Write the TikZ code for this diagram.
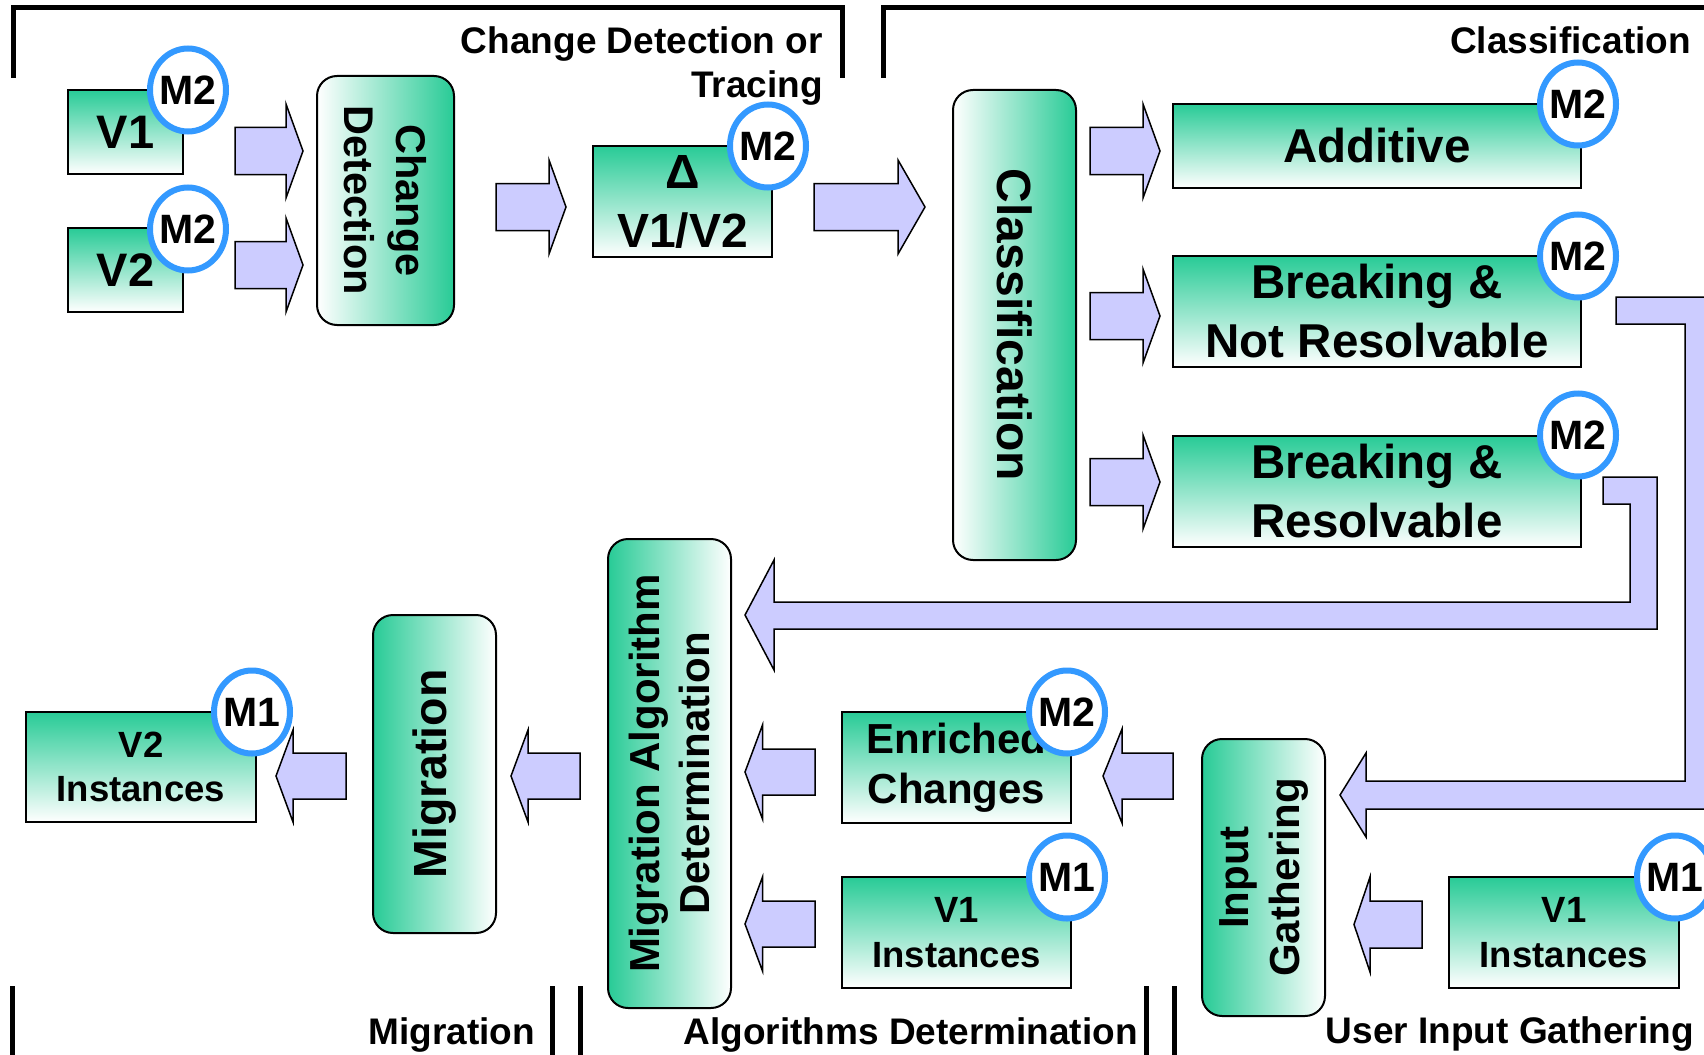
\documentclass[tikz,border=0pt]{standalone}
\usepackage{fontspec}
\setmainfont{Liberation Sans}
\usetikzlibrary{shapes.geometric,calc}
\definecolor{gr}{RGB}{40,203,150}
\definecolor{af}{RGB}{204,204,255}
\definecolor{bb}{RGB}{51,153,255}
\newcommand\fsz[2]{\fontsize{#1}{#2}\selectfont\bfseries}
\newcommand\harrow[5]{%
  \draw[blockarrow] let \p1=(#1), \p2=(#2), \n1={#5} in
   ({\x1},{\y2+#3}) -- ({\x2-\n1},{\y2+#3}) -- ({\x2-\n1},{\y2+#4}) -- ({\x2},{\y2}) --
   ({\x2-\n1},{\y2-#4}) -- ({\x2-\n1},{\y2-#3}) -- ({\x1},{\y2-#3}) -- cycle;}
\begin{document}
\begin{tikzpicture}[x=1pt,y=-1pt,
  box/.style={draw=black, line width=2pt, top color=gr, bottom color=white,
    rectangle, inner sep=0pt, align=center},
  rboxr/.style={draw=black, line width=2pt, left color=white, right color=gr,
    rectangle, inner sep=0pt, align=center, rounded corners=20pt},
  rboxl/.style={draw=black, line width=2pt, left color=gr, right color=white,
    rectangle, inner sep=0pt, align=center, rounded corners=20pt},
  badge/.style={ellipse, draw=bb, line width=6pt, fill=white,
    minimum width=76pt, minimum height=83pt, inner sep=0pt, font=\fsz{41}{41}},
  lbl/.style={font=\fsz{37}{44}, anchor=base east, inner sep=0pt, align=right},
  bracket/.style={line width=5pt, line cap=rect},
  blockarrow/.style={draw=black, line width=1.5pt, fill=af, line join=miter},
]
\useasboundingbox (0,0) rectangle (1704,1054);
\clip (0,0) rectangle (1704,1054);

% brackets
\draw[bracket] (13,76) -- (13,8) -- (842,8) -- (842,76);
\draw[bracket] (883,76) -- (883,8) -- (1720,8);
\draw[bracket] (12,988) -- (12,1060);
\draw[bracket] (552,988) -- (552,1060);
\draw[bracket] (580,988) -- (580,1060);
\draw[bracket] (1146,988) -- (1146,1060);
\draw[bracket] (1174,988) -- (1174,1060);

% phase labels
\node[lbl] (lcd) at (823,98) {Change Detection or\\Tracing};
\node[lbl] (lcl) at (1691,54) {Classification};
\node[lbl] (lmi) at (535,1044) {Migration};
\node[lbl] (lad) at (1138,1044) {Algorithms Determination};
\node[lbl] (lug) at (1694,1043) {User Input Gathering};

% bent arrows
\coordinate (bnrs) at (1616,310);
\coordinate (igt) at (1340,795);
\draw[blockarrow] (bnrs |- 0,297) -- (1714,297) -- (1714,809) -- (1366,809) -- (1366,837)
  -- (igt) -- (1366,753) -- (1366,781) -- (1685,781) -- (1685,324) -- (bnrs |- 0,324) -- cycle;
\coordinate (brs) at (1603,490);
\coordinate (madt) at (745,615);
\draw[blockarrow] (brs |- 0,477) -- (1657,477) -- (1657,629) -- (774,629) -- (774,670)
  -- (madt) -- (774,560) -- (774,602) -- (1630,602) -- (1630,504) -- (brs |- 0,504) -- cycle;

% boxes
\node[box, minimum width=115pt, minimum height=84pt, font=\fsz{47}{56}] (v1) at (125.5,132) {V1};
\node[box, minimum width=115pt, minimum height=84pt, font=\fsz{47}{56}] (v2) at (125.5,270) {V2};
\node[box, minimum width=179pt, minimum height=111pt, font=\fsz{48}{59}] (delta) at (682.5,201.5) {Δ\\V1/V2};
\node[box, minimum width=408pt, minimum height=84pt, font=\fsz{47.5}{59}] (add) at (1377,146) {Additive};
\node[box, minimum width=408pt, minimum height=111pt, font=\fsz{47.5}{59}] (bnr) at (1377,311.5) {Breaking \&\\Not Resolvable};
\node[box, minimum width=408pt, minimum height=111pt, font=\fsz{47.5}{59}] (br) at (1377,491.5) {Breaking \&\\Resolvable};
\node[box, minimum width=230pt, minimum height=110pt, font=\fsz{36.5}{44}] (v2i) at (141,767) {V2\\Instances};
\node[box, minimum width=229pt, minimum height=111pt, font=\fsz{42}{50}] (enr) at (956.5,767.5) {Enriched\\Changes};
\node[box, minimum width=229pt, minimum height=111pt, font=\fsz{36.5}{45}] (v1m) at (956.5,932.5) {V1\\Instances};
\node[box, minimum width=230pt, minimum height=111pt, font=\fsz{36.5}{45}] (v1r) at (1564,932.5) {V1\\Instances};

% rounded (rotated) boxes
\node[rboxr, rotate=-90, minimum width=249pt, minimum height=137pt, font=\fsz{41.5}{52}] (cd) at (385.5,200.5) {Change\\Detection};
\node[rboxr, rotate=-90, minimum width=470pt, minimum height=123pt, font=\fsz{48}{56}] (cls) at (1014.5,325) {Classification};
\node[rboxl, rotate=90, minimum width=469pt, minimum height=123pt, font=\fsz{42}{50}] (mad) at (669.5,773.5) {Migration Algorithm\\Determination};
\node[rboxl, rotate=90, minimum width=318pt, minimum height=123pt, font=\fsz{46.5}{56}] (mig) at (434.5,774) {Migration};
\node[rboxl, rotate=90, minimum width=277pt, minimum height=123pt, font=\fsz{42}{51}] (ig) at (1263.5,877.5) {Input\\Gathering};

% badges
\node[badge] (b1) at (188,90) {\makebox[0pt]{M2}};
\node[badge] (b2) at (188,229) {\makebox[0pt]{M2}};
\node[badge] (b3) at (768,146) {\makebox[0pt]{M2}};
\node[badge] (b4) at (1578,104) {\makebox[0pt]{M2}};
\node[badge] (b5) at (1578,256) {\makebox[0pt]{M2}};
\node[badge] (b6) at (1578,435) {\makebox[0pt]{M2}};
\node[badge] (b7) at (252,712) {\makebox[0pt]{M1}};
\node[badge] (b8) at (1067,712) {\makebox[0pt]{M2}};
\node[badge] (b9) at (1067,877) {\makebox[0pt]{M1}};
\node[badge] (b10) at (1675,877) {\makebox[0pt]{M1}};

% straight block arrows
\coordinate (a1s) at (235,151);  \coordinate (a1t) at (303,151);
\coordinate (a2s) at (235,265);  \coordinate (a2t) at (303,265);
\coordinate (a3s) at (496,207);  \coordinate (a3t) at (566,207);
\coordinate (a4s) at (814,207);  \coordinate (a4t) at (925,207);
\coordinate (a5s) at (1090,151); \coordinate (a5t) at (1160,151);
\coordinate (a6s) at (1090,316); \coordinate (a6t) at (1160,316);
\coordinate (a7s) at (1090,482); \coordinate (a7t) at (1160,482);
\coordinate (a8s) at (346,776);  \coordinate (a8t) at (276,776);
\coordinate (a9s) at (580,776);  \coordinate (a9t) at (511,776);
\coordinate (a10s) at (815,772); \coordinate (a10t) at (745,772);
\coordinate (a11s) at (815,924); \coordinate (a11t) at (745,924);
\coordinate (a12s) at (1173,776); \coordinate (a12t) at (1103,776);
\coordinate (a13s) at (1422,924.5); \coordinate (a13t) at (1354,924.5);
\harrow{a1s}{a1t}{23.5pt}{47pt}{17pt}
\harrow{a2s}{a2t}{23.5pt}{47pt}{17pt}
\harrow{a3s}{a3t}{23.5pt}{47pt}{17pt}
\harrow{a4s}{a4t}{23.5pt}{47pt}{27pt}
\harrow{a5s}{a5t}{23.5pt}{47pt}{17pt}
\harrow{a6s}{a6t}{23.5pt}{47pt}{17pt}
\harrow{a7s}{a7t}{23.5pt}{47pt}{17pt}
\harrow{a8s}{a8t}{23pt}{46pt}{-17pt}
\harrow{a9s}{a9t}{23pt}{46pt}{-17pt}
\harrow{a10s}{a10t}{23pt}{47pt}{-17.5pt}
\harrow{a11s}{a11t}{23pt}{47pt}{-17.5pt}
\harrow{a12s}{a12t}{23pt}{47pt}{-19pt}
\harrow{a13s}{a13t}{23.5pt}{47.5pt}{-16pt}
\end{tikzpicture}
\end{document}
